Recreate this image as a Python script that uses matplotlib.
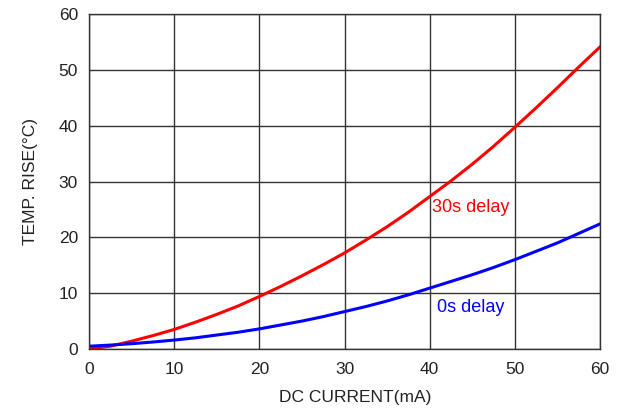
import matplotlib
matplotlib.use("Agg")
import matplotlib.pyplot as plt

current = [0, 2.5, 5, 7.5, 10, 12.5, 15, 17.5, 20, 22.5, 25, 27.5, 30,
           32.5, 35, 37.5, 40, 42.5, 45, 47.5, 50, 52.5, 55, 57.5, 60]
rise_30s = [0.0, 0.5, 1.4, 2.4, 3.5, 4.8, 6.2, 7.7, 9.4, 11.2, 13.1, 15.1, 17.2,
            19.5, 21.9, 24.5, 27.3, 30.1, 33.1, 36.3, 39.7, 43.2, 46.8, 50.5, 54.1]
rise_0s = [0.5, 0.7, 0.95, 1.25, 1.6, 2.0, 2.5, 3.0, 3.6, 4.3, 5.0, 5.8, 6.7,
           7.6, 8.6, 9.7, 10.9, 12.1, 13.3, 14.6, 16.0, 17.5, 19.0, 20.7, 22.4]
xticks = [0, 10, 20, 30, 40, 50, 60]
yticks = [0, 10, 20, 30, 40, 50, 60]

plt.rcParams['font.family'] = ['Liberation Sans', 'DejaVu Sans']

fig = plt.figure(figsize=(6.22, 4.12), dpi=100)
ax = fig.add_axes([89/622, 1-349/412, (600-89)/622, (349-14)/412])

ax.plot(current, rise_30s, color='#ff0000', lw=2.2, solid_joinstyle='round')
ax.plot(current, rise_0s, color='#0000ff', lw=2.2, solid_joinstyle='round')

ax.set_xlim(0, 60)
ax.set_ylim(0, 60)
ax.set_xticks(xticks)
ax.set_yticks(yticks)
ax.grid(True, color='#333333', lw=1.0)
ax.set_axisbelow(True)
for s in ax.spines.values():
    s.set_color('#333333')
    s.set_linewidth(1.0)
ax.tick_params(length=0, labelsize=12.5, pad=8, colors='#222222')
ax.tick_params(axis='x', pad=9)

ax.set_xlabel('DC CURRENT(mA)', fontsize=12.5, labelpad=10, color='#222222')
ax.xaxis.label.set_x((355 - 89) / 511)
ax.set_ylabel('TEMP. RISE(\u00b0C)', fontsize=12.5, labelpad=15, color='#222222')

ax.text(40.3, 25.3, '30s delay', color='#ff0000', fontsize=13, va='center', ha='left')
ax.text(40.9, 7.4, '0s delay', color='#0000ff', fontsize=13, va='center', ha='left')

fig.savefig('out.png', dpi=100)
